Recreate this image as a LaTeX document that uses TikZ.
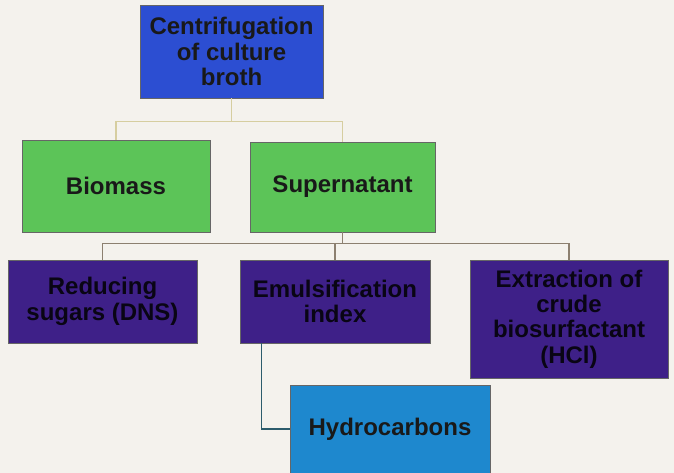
\documentclass[tikz,border=0pt]{standalone}
\usepackage{fontspec}
\setmainfont{Liberation Sans}
\definecolor{topblue}{RGB}{44,78,210}
\definecolor{leafgreen}{RGB}{92,196,88}
\definecolor{deeppurple}{RGB}{62,32,136}
\definecolor{skyblue}{RGB}{30,136,206}
\definecolor{paletan}{RGB}{214,206,160}
\definecolor{greybrown}{RGB}{140,128,112}
\definecolor{darkteal}{RGB}{44,92,108}
\definecolor{paper}{RGB}{244,242,237}
\begin{document}
\begin{tikzpicture}[x=0.75pt,y=0.75pt,yscale=-1,
  box/.style={draw=black!60,line width=0.4pt,inner sep=2pt,align=center,
    font=\fontsize{18}{19}\selectfont\bfseries},
  bluebox/.style={box,fill=topblue,text=black!90},
  greenbox/.style={box,fill=leafgreen,text=black!90},
  purplebox/.style={box,fill=deeppurple,text=black!85!deeppurple},
  hydrobox/.style={box,fill=skyblue,text=black!90},
  link/.style={line width=1pt}]
%set diagram size to the reference
\useasboundingbox (0,0) rectangle (674,473);
\fill[paper] (0,0) rectangle (674,473);

%Shape: Rectangle top
\node[bluebox,minimum width=137.25pt,minimum height=69.75pt] (centrif) at (231.5,51.5) {Centrifugation\\of culture\\broth};
%Shape: Rectangles second row
\node[greenbox,minimum width=141pt,minimum height=69pt] (biomass) at (116,186) {Biomass};
\node[greenbox,minimum width=138.75pt,minimum height=67.5pt] (superna) at (342.5,187) {Supernatant};
%Shape: Rectangles third row
\node[purplebox,minimum width=141.75pt,minimum height=62.25pt] (reducing) at (102.5,301.5) {Reducing\\sugars (DNS)};
\node[purplebox,minimum width=142.5pt,minimum height=62.25pt] (emulsify) at (335,301.5) {Emulsification\\index};
\node[purplebox,minimum width=148.5pt,minimum height=88.5pt] (extract) at (569,319) {Extraction of\\crude\\biosurfactant\\(HCl)};
%Shape: Rectangle bottom
\node[hydrobox,minimum width=150pt,minimum height=66pt] (hydro) at (390,429) {Hydrocarbons};

%Straight Lines
\draw[link,paletan] (centrif.south) -- ++(0,23) -| (biomass.north);
\draw[link,paletan] (centrif.south) ++(0,23) -| (superna.north);
\draw[link,greybrown] (superna.south) -- ++(0,11) -| (reducing.north);
\draw[link,greybrown] (superna.south) ++(0,11) -| (emulsify.north);
\draw[link,greybrown] (superna.south) ++(0,11) -| (extract.north);
\draw[link,darkteal] ([xshift=16.5pt]emulsify.south west) |- (hydro.west);

\end{tikzpicture}
\end{document}
